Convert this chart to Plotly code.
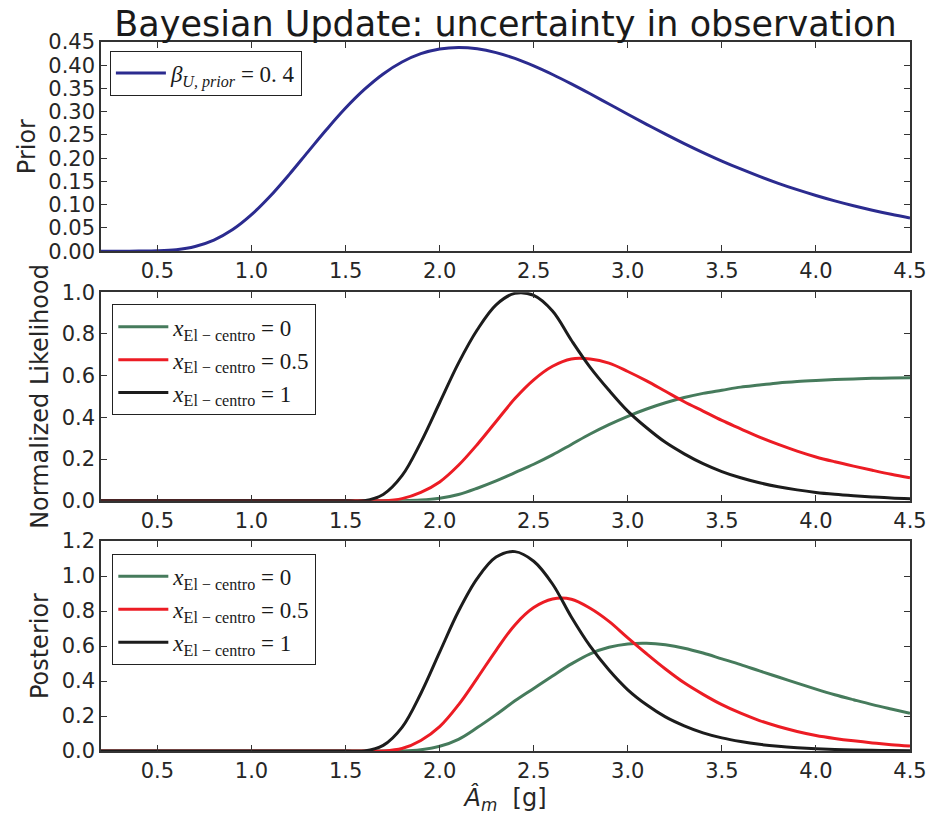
import plotly.graph_objects as go
from plotly.subplots import make_subplots

# ---- data ----
x_grid = [0.2, 0.3, 0.4, 0.5, 0.6, 0.7, 0.8, 0.9, 1.0, 1.1, 1.2, 1.3, 1.4, 1.5,
          1.6, 1.7, 1.8, 1.9, 2.0, 2.1, 2.2, 2.3, 2.4, 2.5, 2.6, 2.7, 2.8, 2.9,
          3.0, 3.1, 3.2, 3.3, 3.4, 3.5, 3.6, 3.7, 3.8, 3.9, 4.0, 4.1, 4.2, 4.3,
          4.4, 4.5]

prior = [0.0, 0.0, 0.0001, 0.0007, 0.0032, 0.0101, 0.0239, 0.0465, 0.0785, 0.1186,
         0.1647, 0.2136, 0.2622, 0.3078, 0.3479, 0.3813, 0.4070, 0.4249, 0.4351,
         0.4384, 0.4355, 0.4272, 0.4147, 0.3986, 0.3801, 0.3599, 0.3386, 0.3166,
         0.2945, 0.2729, 0.2518, 0.2315, 0.2122, 0.1939, 0.1769, 0.1609, 0.1460,
         0.1323, 0.1198, 0.1082, 0.0977, 0.0881, 0.0793, 0.0714]

lik_x0 = [0, 0, 0, 0, 0, 0, 0, 0, 0, 0, 0, 0, 0, 0,
          0, 0, 0, 0.003, 0.012, 0.03, 0.06, 0.095, 0.135, 0.175, 0.22, 0.27,
          0.32, 0.365, 0.405, 0.44, 0.47, 0.495, 0.515, 0.53, 0.545, 0.555,
          0.565, 0.572, 0.577, 0.581, 0.584, 0.587, 0.589, 0.59]
lik_x05 = [0, 0, 0, 0, 0, 0, 0, 0, 0, 0, 0, 0, 0, 0,
           0, 0, 0.01, 0.04, 0.09, 0.17, 0.27, 0.38, 0.49, 0.58, 0.645, 0.68,
           0.68, 0.66, 0.62, 0.575, 0.525, 0.475, 0.43, 0.385, 0.345, 0.305, 0.27,
           0.238, 0.21, 0.187, 0.166, 0.146, 0.127, 0.11]
lik_x1 = [0, 0, 0, 0, 0, 0, 0, 0, 0, 0, 0, 0, 0, 0,
          0, 0.03, 0.12, 0.28, 0.47, 0.66, 0.82, 0.94, 0.995, 0.985, 0.91, 0.77,
          0.64, 0.53, 0.43, 0.35, 0.28, 0.225, 0.178, 0.14, 0.11, 0.086, 0.067,
          0.052, 0.04, 0.031, 0.024, 0.018, 0.013, 0.01]

post_x0 = [0, 0, 0, 0, 0, 0, 0, 0, 0, 0, 0, 0, 0, 0,
           0, 0, 0, 0.007, 0.027, 0.067, 0.134, 0.208, 0.287, 0.358, 0.429, 0.498,
           0.556, 0.593, 0.612, 0.616, 0.607, 0.588, 0.560, 0.527, 0.494, 0.458,
           0.423, 0.388, 0.354, 0.322, 0.293, 0.265, 0.240, 0.216]
post_x05 = [0, 0, 0, 0, 0, 0, 0, 0, 0, 0, 0, 0, 0, 0,
            0, 0, 0.014, 0.060, 0.139, 0.264, 0.417, 0.576, 0.721, 0.820, 0.869,
            0.868, 0.816, 0.741, 0.647, 0.556, 0.469, 0.390, 0.324, 0.265, 0.216,
            0.174, 0.140, 0.112, 0.089, 0.072, 0.058, 0.046, 0.036, 0.028]
post_x1 = [0, 0, 0, 0, 0, 0, 0, 0, 0, 0, 0, 0, 0, 0,
           0, 0.032, 0.135, 0.329, 0.565, 0.799, 0.987, 1.109, 1.140, 1.085, 0.955,
           0.766, 0.599, 0.463, 0.350, 0.264, 0.195, 0.144, 0.104, 0.075, 0.054,
           0.038, 0.027, 0.019, 0.013, 0.009, 0.006, 0.004, 0.003, 0.002]

x_ticks = [0.5, 1.0, 1.5, 2.0, 2.5, 3.0, 3.5, 4.0, 4.5]
series_names = ["<i>x</i><sub>El − centro</sub> = 0",
                "<i>x</i><sub>El − centro</sub> = 0.5",
                "<i>x</i><sub>El − centro</sub> = 1"]
prior_name = "<i>β</i><sub><i>U, prior</i></sub> = 0. 4"

# ---- styles ----
C_PRIOR = "#2b2b8f"
C_GREEN = "#467b5c"
C_RED = "#ec1c24"
C_BLACK = "#1c1c1c"
LW = 3
FONT = "DejaVu Sans"
SERIF = "Liberation Serif"
LINE = dict(width=LW, shape="spline", smoothing=1.0)

fig = make_subplots(rows=3, cols=1, vertical_spacing=0.0)

fig.add_trace(go.Scatter(x=x_grid, y=prior, mode="lines", name=prior_name,
                         line=dict(color=C_PRIOR, **LINE), legend="legend"), row=1, col=1)

for ys, c, nm in zip([lik_x0, lik_x05, lik_x1], [C_GREEN, C_RED, C_BLACK], series_names):
    fig.add_trace(go.Scatter(x=x_grid, y=ys, mode="lines", name=nm,
                             line=dict(color=c, **LINE), legend="legend2"), row=2, col=1)

for ys, c, nm in zip([post_x0, post_x05, post_x1], [C_GREEN, C_RED, C_BLACK], series_names):
    fig.add_trace(go.Scatter(x=x_grid, y=ys, mode="lines", name=nm,
                             line=dict(color=c, **LINE), legend="legend3"), row=3, col=1)

axis_common = dict(showline=True, linecolor="#333333", linewidth=1.5, mirror="ticks",
                   ticks="inside", ticklen=6, tickwidth=1.2, tickcolor="#333333",
                   showgrid=False, zeroline=False, automargin=False,
                   tickfont=dict(family=FONT, size=21, color="#262626"))

domains = [[0.705, 1.0], [0.353, 0.647], [0.0, 0.296]]
yranges = [[0, 0.45], [0, 1.0], [0, 1.2]]
ydticks = [0.05, 0.2, 0.2]
yfmts = [".2f", ".1f", ".1f"]
ytitles = ["Prior", "Normalized Likelihood", "Posterior"]

for i in range(3):
    xa = "xaxis" if i == 0 else f"xaxis{i+1}"
    ya = "yaxis" if i == 0 else f"yaxis{i+1}"
    fig.layout[xa].update(range=[0.2, 4.5], tickvals=x_ticks, tickformat=".1f", **axis_common)
    fig.layout[ya].update(range=yranges[i], domain=domains[i], dtick=ydticks[i], tick0=0,
                          tickformat=yfmts[i],
                          title=dict(text=ytitles[i], font=dict(family=FONT, size=24, color="#262626"),
                                     standoff=6),
                          **axis_common)

fig.layout.xaxis3.title = dict(text="<i>Â</i><sub><i>m</i></sub>  [g]",
                               font=dict(family=FONT, size=24, color="#262626"), standoff=4)

leg_common = dict(bgcolor="white", bordercolor="#222222", borderwidth=1,
                  font=dict(family=SERIF, size=23, color="#1a1a1a"), itemwidth=50,
                  xref="paper", yref="paper", xanchor="left", yanchor="top")
fig.update_layout(
    template="simple_white",
    legend=dict(x=0.011, y=0.988, **leg_common),
    legend2=dict(x=0.014, y=0.630, **leg_common),
    legend3=dict(x=0.014, y=0.278, **leg_common),
    title=dict(text="Bayesian Update: uncertainty in observation", x=0.5, xref="paper",
               y=0.971, yref="container", xanchor="center", yanchor="middle",
               font=dict(family=FONT, size=35, color="#1a1a1a")),
    width=931, height=823,
    margin=dict(l=101, r=21, t=42, b=72, autoexpand=False),
    plot_bgcolor="white", paper_bgcolor="white",
    showlegend=True,
)

fig.write_html("out.html", config={"displayModeBar": False},
               post_script="document.body.style.margin='0';document.body.style.padding='0';")
